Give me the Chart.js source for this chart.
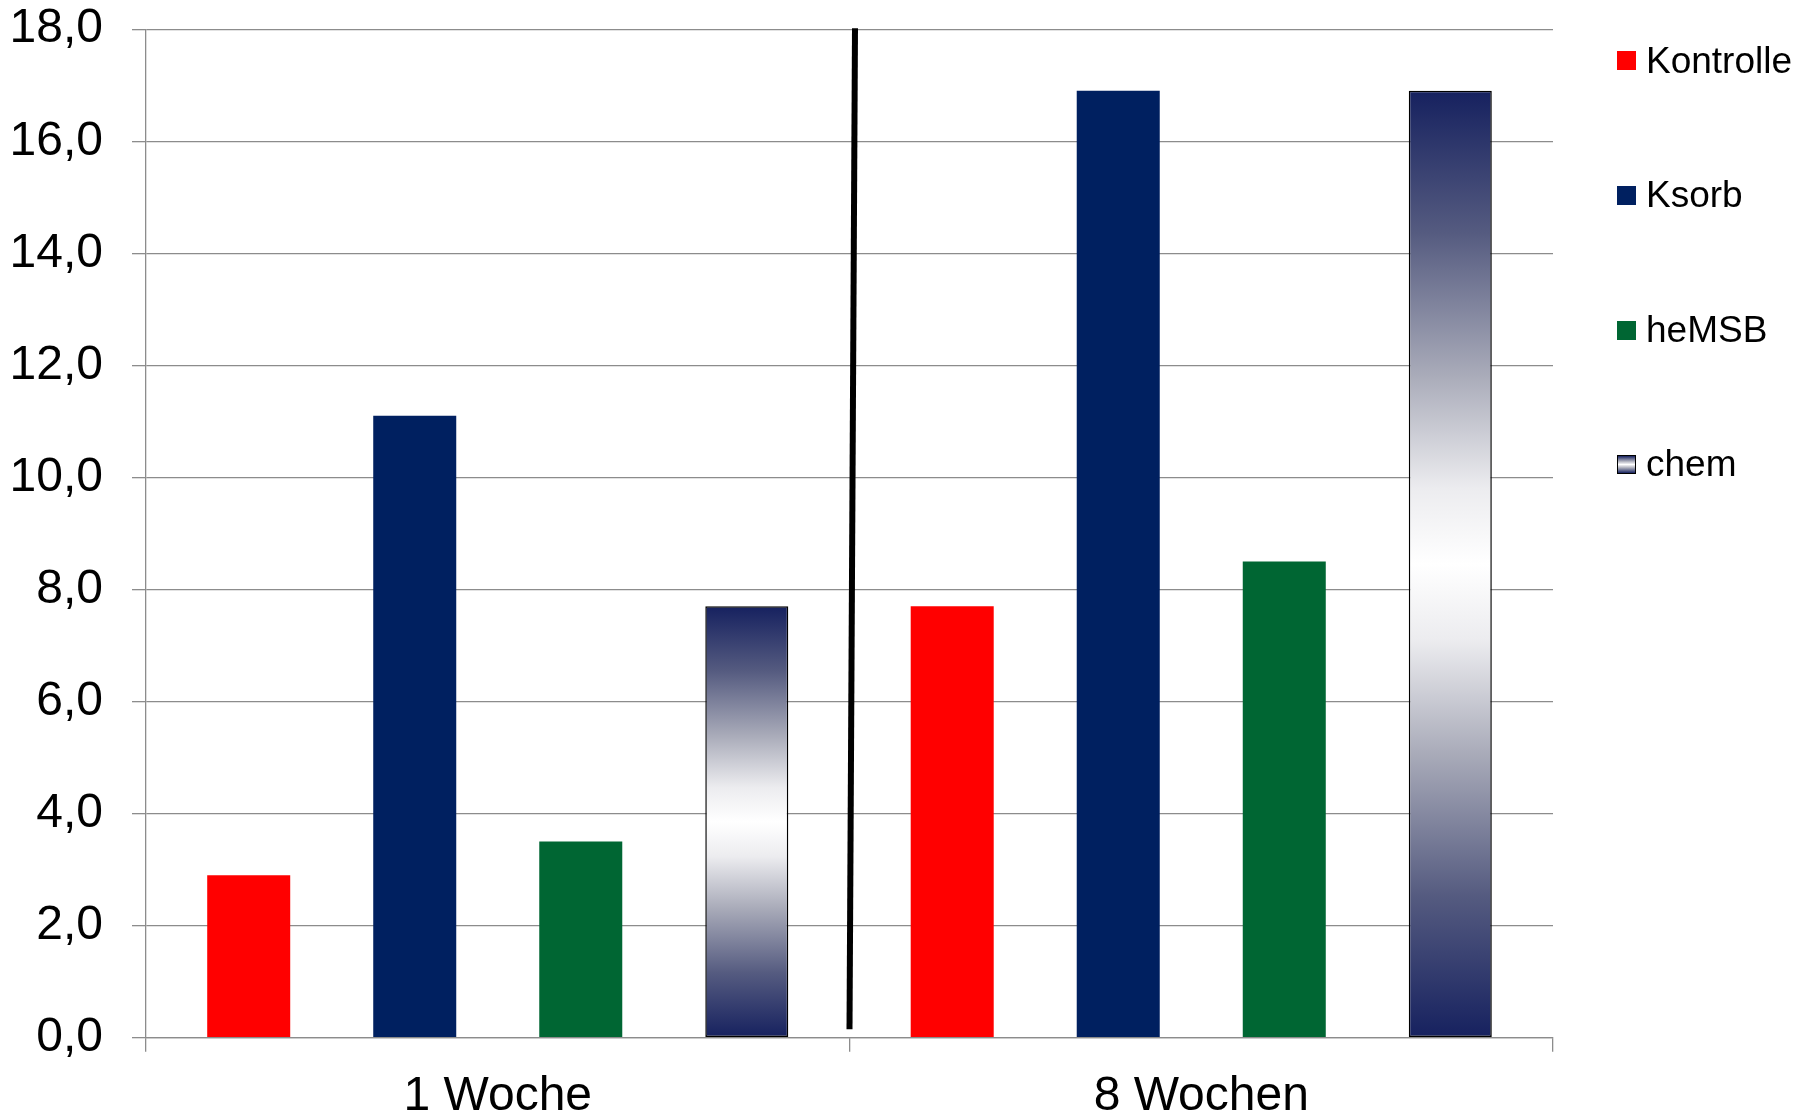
<!DOCTYPE html>
<html>
<head>
<meta charset="utf-8">
<script src="https://cdn.jsdelivr.net/npm/chart.js@4"></script>
<style>
  html, body { margin: 0; padding: 0; background: #ffffff; }
  #wrap { position: relative; width: 1809px; height: 1116px; }
  #c { position: absolute; left: 0; top: 0; }
  #legend { position: absolute; left: 0; top: 0; width: 1809px; height: 1116px; pointer-events: none;
            font-family: "Liberation Sans", Arial, sans-serif; font-size: 37px; color: #000; }
  .item { position: absolute; left: 1617px; height: 40px; display: flex; align-items: center; }
  .box { width: 19px; height: 19px; box-sizing: border-box; margin-right: 10px; }
</style>
</head>
<body>
<div id="wrap">
  <canvas id="c" width="1809" height="1116"></canvas>
  <div id="legend"></div>
</div>
<script>
// ---- data ----
const categories = ["1 Woche", "8 Wochen"];
const seriesNames = ["Kontrolle", "Ksorb", "heMSB", "chem"];
const kontrolle = [2.9, 7.7];
const ksorb = [11.1, 16.9];
const hemsb = [3.5, 8.5];
const chem = [7.7, 16.9];
const yTicks = [0, 2, 4, 6, 8, 10, 12, 14, 16, 18];
const dividerRange = [0.15, 18];   // divider between the two groups (value range)

// ---- styles ----
const colors = ["#ff0000", "#002060", "#006633", null];
const navy = "#16215f";
const gridColor = "#8c8c8c";
const FONT = '"Liberation Sans", Arial, sans-serif';

function addStops(g) {
  g.addColorStop(0, navy);
  g.addColorStop(0.15, "#555b80");
  g.addColorStop(0.3, "#a9abb9");
  g.addColorStop(0.42, "#ececef");
  g.addColorStop(0.5, "#ffffff");
  g.addColorStop(0.58, "#ececef");
  g.addColorStop(0.7, "#a9abb9");
  g.addColorStop(0.85, "#555b80");
  g.addColorStop(1, navy);
  return g;
}

function chemFill(ctx) {
  const chart = ctx.chart;
  if (!chart.chartArea || ctx.type !== 'data') return navy;
  const y = chart.scales.y;
  const top = y.getPixelForValue(ctx.raw);
  const bottom = y.getPixelForValue(0);
  return addStops(chart.ctx.createLinearGradient(0, top, 0, bottom));
}

const dividerPlugin = {
  id: 'divider',
  afterDatasetsDraw(chart) {
    const {ctx, scales} = chart;
    const xMid = scales.x.getPixelForValue(0.5);
    const yTop = scales.y.getPixelForValue(dividerRange[1]);
    const yBot = scales.y.getPixelForValue(dividerRange[0]);
    ctx.save();
    ctx.strokeStyle = "#000000";
    ctx.lineWidth = 6;
    ctx.beginPath();
    ctx.moveTo(xMid + 5.5, yTop - 1);
    ctx.lineTo(xMid, yBot);
    ctx.stroke();
    ctx.restore();
  }
};

const values = [kontrolle, ksorb, hemsb, chem];
const datasets = seriesNames.map((name, i) => ({
  label: name,
  data: values[i],
  backgroundColor: i === 3 ? chemFill : colors[i],
  borderColor: "#000000",
  borderWidth: i === 3 ? 1.5 : 0,
  borderSkipped: false,
  categoryPercentage: 0.944,
  barPercentage: 0.5
}));

new Chart(document.getElementById('c'), {
  type: 'bar',
  data: { labels: categories, datasets },
  options: {
    responsive: false,
    animation: false,
    devicePixelRatio: 1,
    layout: { padding: { left: 0, right: 256, top: 0, bottom: 0 } },
    plugins: { legend: { display: false }, tooltip: { enabled: false } },
    scales: {
      x: {
        grid: { offset: true, drawOnChartArea: false, drawTicks: true, tickLength: 14, color: gridColor, lineWidth: 1.3 },
        border: { display: true, color: gridColor, width: 1.3 },
        ticks: { color: "#000", font: { family: FONT, size: 48 }, padding: 16 },
        afterFit(scale) { scale.height = 78.3; }
      },
      y: {
        min: 0, max: 18,
        afterBuildTicks(scale) { scale.ticks = yTicks.map(v => ({ value: v })); },
        grid: { color: gridColor, lineWidth: 1.3, tickLength: 14 },
        border: { display: true, color: gridColor, width: 1.3 },
        ticks: {
          color: "#000", font: { family: FONT, size: 48, lineHeight: 0.01 }, padding: 29,
          callback: v => v.toFixed(1).replace('.', ',')
        },
        afterFit(scale) { scale.width = 146; }
      }
    }
  },
  plugins: [dividerPlugin]
});

// ---- legend (HTML) ----
const legendY = [60.5, 195, 330, 464];
const legend = document.getElementById('legend');
seriesNames.forEach((name, i) => {
  const it = document.createElement('div');
  it.className = 'item';
  it.style.top = (legendY[i] - 20) + 'px';
  const b = document.createElement('div');
  b.className = 'box';
  if (i === 3) {
    b.style.background = "linear-gradient(to bottom, " + navy + " 0%, #a9abb9 30%, #ffffff 50%, #a9abb9 70%, " + navy + " 100%)";
    b.style.border = "1.5px solid #000";
  } else {
    b.style.background = colors[i];
  }
  const t = document.createElement('span');
  t.textContent = name;
  it.appendChild(b); it.appendChild(t);
  legend.appendChild(it);
});
</script>
</body>
</html>
